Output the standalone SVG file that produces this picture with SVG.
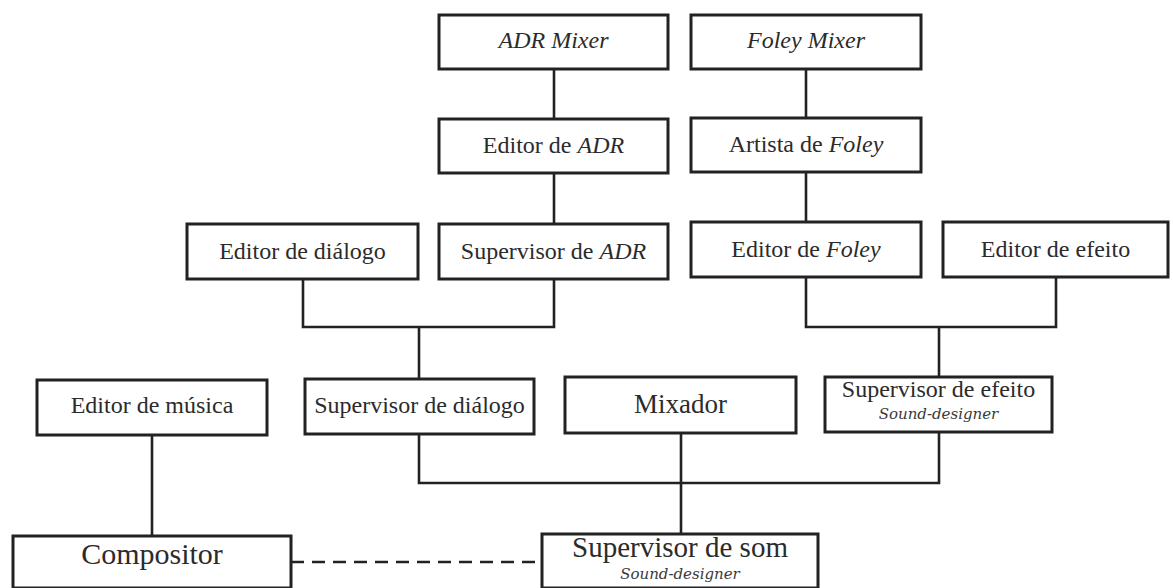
<svg xmlns="http://www.w3.org/2000/svg" width="1173" height="588" viewBox="0 0 1173 588">
<style>
.box{fill:#fff;stroke:#222;stroke-width:3}
.t{font-family:"Liberation Serif","Times New Roman",serif;font-size:24px;fill:#2b2b2b;text-anchor:middle}
.i{font-style:italic}
.sd{font-family:"DejaVu Serif","Liberation Serif",serif;font-style:italic;font-size:15px;fill:#3a3a3a;text-anchor:middle}
.c{fill:none;stroke:#222;stroke-width:2.6}
.d{stroke-dasharray:13 8}
</style>
<rect width="1173" height="588" fill="#fff"/>
<g id="connectors">
<path class="c" d="M554 69V119"/>
<path class="c" d="M806 69V118"/>
<path class="c" d="M554 173V224"/>
<path class="c" d="M806 172V222"/>
<path class="c" d="M303 279V327H554V279"/>
<path class="c" d="M419 327V379"/>
<path class="c" d="M806 277V327H1056V277"/>
<path class="c" d="M939 327V377"/>
<path class="c" d="M419 434V483H939V432"/>
<path class="c" d="M681 433V534"/>
<path class="c" d="M152 435V536"/>
<path class="c d" d="M291 562H542"/>
</g>
<g id="adr-mixer"><rect class="box" x="439" y="15" width="229" height="54"/><text class="t i" x="553.5" y="48">ADR Mixer</text></g>
<g id="foley-mixer"><rect class="box" x="691" y="15" width="230" height="54"/><text class="t i" x="806" y="48">Foley Mixer</text></g>
<g id="editor-adr"><rect class="box" x="439" y="119" width="229" height="54"/><text class="t" x="553.5" y="153">Editor de <tspan class="i">ADR</tspan></text></g>
<g id="artista-foley"><rect class="box" x="691" y="118" width="230" height="54"/><text class="t" x="806" y="152">Artista de <tspan class="i">Foley</tspan></text></g>
<g id="editor-dialogo"><rect class="box" x="187" y="224" width="231" height="55"/><text class="t" x="302.5" y="259">Editor de diálogo</text></g>
<g id="supervisor-adr"><rect class="box" x="439" y="224" width="229" height="55"/><text class="t" x="553.5" y="259">Supervisor de <tspan class="i">ADR</tspan></text></g>
<g id="editor-foley"><rect class="box" x="691" y="222" width="230" height="55"/><text class="t" x="806" y="257">Editor de <tspan class="i">Foley</tspan></text></g>
<g id="editor-efeito"><rect class="box" x="943" y="222" width="225" height="55"/><text class="t" x="1055.5" y="257">Editor de efeito</text></g>
<g id="editor-musica"><rect class="box" x="37" y="380" width="230" height="55"/><text class="t" x="152" y="413">Editor de música</text></g>
<g id="supervisor-dialogo"><rect class="box" x="305" y="379" width="229" height="55"/><text class="t" x="419.5" y="413">Supervisor de diálogo</text></g>
<g id="mixador"><rect class="box" x="565" y="377" width="231" height="56"/><text class="t" x="680.5" y="413" style="font-size:27px">Mixador</text></g>
<g id="supervisor-efeito"><rect class="box" x="825" y="377" width="227" height="55"/><text class="t" x="938.5" y="397">Supervisor de efeito</text><text class="sd" x="938.5" y="419">Sound-designer</text></g>
<g id="compositor"><rect class="box" x="13" y="536" width="278" height="52"/><text class="t" x="152" y="564" style="font-size:30px">Compositor</text></g>
<g id="supervisor-som"><rect class="box" x="542" y="534" width="276" height="54"/><text class="t" x="680" y="557" style="font-size:29px">Supervisor de som</text><text class="sd" x="680" y="579">Sound-designer</text></g>
</svg>
